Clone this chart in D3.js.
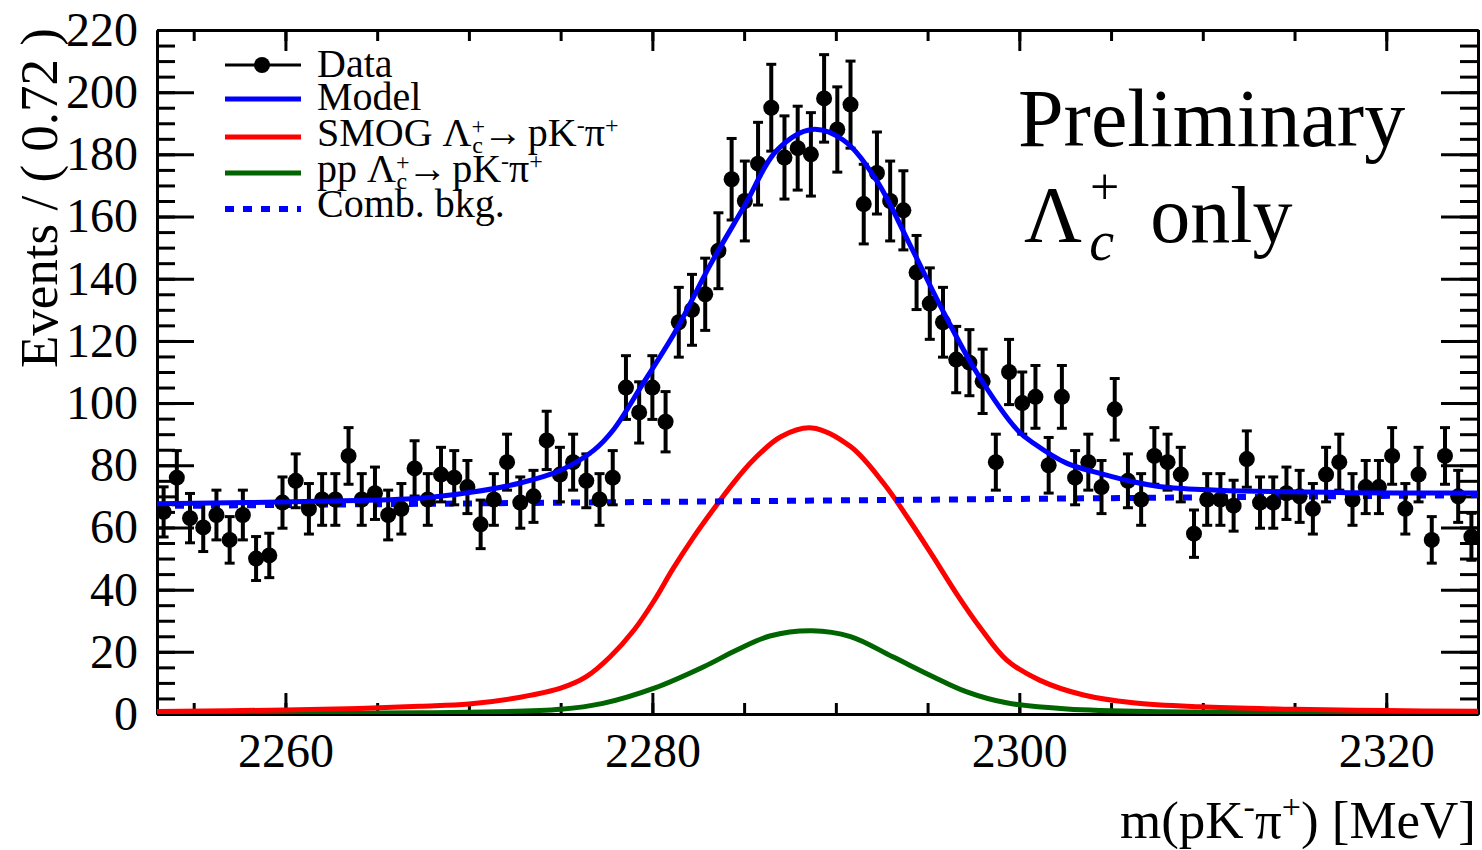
<!DOCTYPE html>
<html>
<head>
<meta charset="utf-8">
<script src="https://cdn.jsdelivr.net/npm/d3@7"></script>
<style>
  body { margin: 0; background: #fff; }
  svg { display: block; }
  text { font-family: "Liberation Serif", "Times New Roman", serif; fill: #000; }
</style>
</head>
<body>
<div id="chart"></div>
<script>
// histogram: 100 bins of 0.72 MeV from 2253 to 2325
const massRange = [2253, 2325]
const binWidth = 0.72
const counts = [
  65, 76, 63, 60, 64, 56, 64, 50, 51, 68,
  75, 66, 69, 69, 83, 69, 71, 64, 66, 79,
  69, 77, 76, 73, 61, 69, 81, 68, 70, 88,
  77, 81, 75, 69, 76, 105, 97, 105, 94, 126,
  130, 135, 149, 172, 165, 177, 195, 179, 182, 180,
  198, 188, 196, 164, 174, 165, 162, 142, 132, 126,
  114, 113, 107, 81, 110, 100, 102, 80, 102, 76,
  81, 73, 98, 75, 69, 83, 81, 77, 58, 69,
  69, 67, 82, 68, 68, 71, 70, 66, 77, 81,
  69, 73, 73, 83, 66, 77, 56, 83, 70, 57
]

// fitted curves, [mass, events]
const modelCurve = [
  [2253, 67.6], [2261.7, 68.4], [2267.3, 69.4], [2270.1, 71.3], [2272.8, 74.3],
  [2275, 78.4], [2276.8, 84.8], [2277.9, 91.6], [2279.5, 106.4], [2281.3, 123.5],
  [2283.1, 143.9], [2285, 163.2], [2286.8, 181.4], [2288.7, 188], [2290.4, 184.6],
  [2292.2, 171.8], [2294, 151.4], [2295.9, 128.9], [2297.7, 109.6], [2299.9, 91.3],
  [2300.8, 87], [2302.6, 80.6], [2304.4, 77.4], [2306.2, 74.7], [2308, 72.9],
  [2310.8, 72], [2318, 71.2], [2325, 71.1]
]
const smogCurve = [
  [2253, 0.8], [2260, 1.3], [2264, 1.8], [2267.3, 2.5], [2270, 3.2],
  [2272.8, 5.4], [2275, 8.3], [2276.4, 12], [2277.7, 18.4], [2279, 27],
  [2280.1, 36.5], [2281.1, 46.5], [2282.2, 56.5], [2283.3, 65.6], [2284.4, 74.2],
  [2285.5, 81.7], [2287, 89.2], [2288.7, 92], [2290.8, 86], [2292.6, 74.2],
  [2294, 62.4], [2295.3, 50.6], [2296.6, 38.5], [2297.9, 27.5], [2299.3, 17.4],
  [2301.1, 10.9], [2303.5, 6.1], [2306.2, 3.6], [2309.8, 2.3], [2315, 1.5],
  [2320, 1.1], [2325, 0.9]
]
const ppCurve = [
  [2253, 0.2], [2267.3, 0.4], [2275, 1.5], [2277.3, 3.4], [2280.1, 8.3],
  [2282.8, 15.2], [2284.6, 20.6], [2286.4, 25.1], [2288.7, 26.8], [2290.8, 24.9],
  [2293.1, 18.4], [2295.3, 12], [2297.1, 7.2], [2299.3, 3.6], [2302.6, 1.6],
  [2308, 0.7], [2325, 0.2]
]
const bkgCurve = [[2253, 66.9], [2325, 70.4]]

const xMajorTicks = [2260, 2280, 2300, 2320]
const xMinorTicks = d3.range(2255, 2326, 5)
const yMajorTicks = d3.range(0, 221, 20)
const yMinorTicks = d3.range(0, 221, 5)

const width = 1482
const height = 850
const plotLeft = 157
const plotRight = 1478
const plotTop = 30
const plotBottom = 714

const svg = d3
  .select('#chart')
  .append('svg')
  .attr('width', width)
  .attr('height', height)

const x = d3.scaleLinear().domain(massRange).range([plotLeft, plotRight])
const y = d3.scaleLinear().domain([0, 220]).range([plotBottom, plotTop])

svg
  .append('defs')
  .append('clipPath')
  .attr('id', 'plot-clip')
  .append('rect')
  .attr('x', plotLeft)
  .attr('y', plotTop)
  .attr('width', plotRight - plotLeft)
  .attr('height', plotBottom - plotTop)

// axes, ROOT style: ticks on all four sides pointing inwards
function styleAxis(g) {
  g.select('.domain').attr('stroke', '#000').attr('stroke-width', 3)
  g.selectAll('.tick line').attr('stroke', '#000').attr('stroke-width', 3)
  g.selectAll('.tick text').attr('font-size', 48).attr('font-family', '"Liberation Serif", serif')
}

svg
  .append('g')
  .attr('transform', `translate(0, ${plotBottom})`)
  .call(d3.axisBottom(x).tickValues(xMinorTicks).tickSize(-11).tickSizeOuter(0).tickFormat(''))
  .call(styleAxis)
svg
  .append('g')
  .attr('transform', `translate(0, ${plotBottom})`)
  .call(d3.axisBottom(x).tickValues(xMajorTicks).tickSize(-21).tickSizeOuter(0).tickPadding(19).tickFormat(d3.format('d')))
  .call(styleAxis)
svg
  .append('g')
  .attr('transform', `translate(0, ${plotTop})`)
  .call(d3.axisTop(x).tickValues(xMinorTicks).tickSize(-11).tickSizeOuter(0).tickFormat(''))
  .call(styleAxis)
svg
  .append('g')
  .attr('transform', `translate(0, ${plotTop})`)
  .call(d3.axisTop(x).tickValues(xMajorTicks).tickSize(-21).tickSizeOuter(0).tickFormat(''))
  .call(styleAxis)

svg
  .append('g')
  .attr('transform', `translate(${plotLeft}, 0)`)
  .call(d3.axisLeft(y).tickValues(yMinorTicks).tickSize(-18).tickSizeOuter(0).tickFormat(''))
  .call(styleAxis)
svg
  .append('g')
  .attr('transform', `translate(${plotLeft}, 0)`)
  .call(d3.axisLeft(y).tickValues(yMajorTicks).tickSize(-37).tickSizeOuter(0).tickPadding(19))
  .call(styleAxis)
svg
  .append('g')
  .attr('transform', `translate(${plotRight}, 0)`)
  .call(d3.axisRight(y).tickValues(yMinorTicks).tickSize(-18).tickSizeOuter(0).tickFormat(''))
  .call(styleAxis)
svg
  .append('g')
  .attr('transform', `translate(${plotRight}, 0)`)
  .call(d3.axisRight(y).tickValues(yMajorTicks).tickSize(-37).tickSizeOuter(0).tickFormat(''))
  .call(styleAxis)

// fitted curves
const line = d3
  .line()
  .x(d => x(d[0]))
  .y(d => y(d[1]))
  .curve(d3.curveCatmullRom.alpha(0.5))

const plot = svg.append('g').attr('clip-path', 'url(#plot-clip)')

plot.append('path').datum(ppCurve).attr('d', line)
  .attr('fill', 'none').attr('stroke', '#006400').attr('stroke-width', 5)
plot.append('path').datum(smogCurve).attr('d', line)
  .attr('fill', 'none').attr('stroke', '#ff0000').attr('stroke-width', 5)
plot.append('path').datum(bkgCurve).attr('d', line)
  .attr('fill', 'none').attr('stroke', '#0000ff').attr('stroke-width', 6)
  .attr('stroke-dasharray', '9,9')

// data points with Poisson error bars
const data = counts.map((c, i) => ({
  m: massRange[0] + binWidth * (i + 0.5),
  v: c,
  e: Math.sqrt(c)
}))

const points = plot
  .selectAll('.point')
  .data(data)
  .enter()
  .append('g')
  .attr('class', 'point')

points
  .append('line')
  .attr('x1', d => x(d.m))
  .attr('x2', d => x(d.m))
  .attr('y1', d => y(d.v - d.e))
  .attr('y2', d => y(d.v + d.e))
  .attr('stroke', '#000')
  .attr('stroke-width', 4)
points
  .selectAll('.cap')
  .data(d => [[d.m, d.v - d.e], [d.m, d.v + d.e]])
  .enter()
  .append('line')
  .attr('x1', d => x(d[0]) - 5)
  .attr('x2', d => x(d[0]) + 5)
  .attr('y1', d => y(d[1]))
  .attr('y2', d => y(d[1]))
  .attr('stroke', '#000')
  .attr('stroke-width', 3)
points
  .append('circle')
  .attr('cx', d => x(d.m))
  .attr('cy', d => y(d.v))
  .attr('r', 8)
  .attr('fill', '#000')

plot.append('path').datum(modelCurve).attr('d', line)
  .attr('fill', 'none').attr('stroke', '#0000ff').attr('stroke-width', 5)

// text with super/subscripts, parts: {t, shift, size, dx, italic}
function richText(sel, px, py, size, parts) {
  const t = sel.append('text').attr('x', px).attr('y', py).attr('font-size', size)
  let cur = 0
  parts.forEach(p => {
    const shift = p.shift || 0
    const ts = t.append('tspan').text(p.t).attr('dy', shift - cur)
    cur = shift
    if (p.size) ts.attr('font-size', p.size)
    if (p.dx) ts.attr('dx', p.dx)
    if (p.italic) ts.attr('font-style', 'italic')
  })
  return t
}

// legend
const legend = svg.append('g')
const legendX = [225, 301]
const legendText = 317
const decayParts = [
  { t: '+', shift: -12, size: 24 },
  { t: 'c', shift: 7, size: 24, dx: -13 },
  { t: '\u2192' },
  { t: 'pK', dx: 5 },
  { t: '-', shift: -13, size: 24 },
  { t: '\u03C0' },
  { t: '+', shift: -13, size: 24 }
]

legend.append('line')
  .attr('x1', legendX[0]).attr('x2', legendX[1]).attr('y1', 65).attr('y2', 65)
  .attr('stroke', '#000').attr('stroke-width', 3)
legend.append('circle').attr('cx', 262).attr('cy', 65).attr('r', 8).attr('fill', '#000')
richText(legend, legendText, 77, 40, [{ t: 'Data' }])

legend.append('line')
  .attr('x1', legendX[0]).attr('x2', legendX[1]).attr('y1', 99).attr('y2', 99)
  .attr('stroke', '#0000ff').attr('stroke-width', 5)
richText(legend, legendText, 110, 40, [{ t: 'Model' }])

legend.append('line')
  .attr('x1', legendX[0]).attr('x2', legendX[1]).attr('y1', 137).attr('y2', 137)
  .attr('stroke', '#ff0000').attr('stroke-width', 5)
richText(legend, legendText, 146, 40, [{ t: 'SMOG \u039B' }].concat(decayParts))

legend.append('line')
  .attr('x1', legendX[0]).attr('x2', legendX[1]).attr('y1', 173).attr('y2', 173)
  .attr('stroke', '#006400').attr('stroke-width', 5)
richText(legend, legendText, 182, 40, [{ t: 'pp \u039B' }].concat(decayParts))

legend.append('line')
  .attr('x1', legendX[0]).attr('x2', legendX[1]).attr('y1', 209).attr('y2', 209)
  .attr('stroke', '#0000ff').attr('stroke-width', 6)
  .attr('stroke-dasharray', '9,9')
richText(legend, legendText, 217, 40, [{ t: 'Comb. bkg.' }])

// labels
richText(svg, 1018, 146, 82, [{ t: 'Preliminary' }])
richText(svg, 1024, 242, 80, [
  { t: '\u039B' },
  { t: '+', shift: -38, size: 52, dx: 8 },
  { t: 'c', shift: 18, size: 56, dx: -30, italic: true },
  { t: ' only', shift: 0, dx: 16 }
])

richText(svg, 0, 0, 53, [{ t: 'Events / ( 0.72 )' }])
  .attr('text-anchor', 'end')
  .attr('transform', 'translate(57, 28) rotate(-90)')

richText(svg, 1476, 838, 53, [
  { t: 'm(pK' },
  { t: '-', shift: -20, size: 34 },
  { t: '\u03C0' },
  { t: '+', shift: -20, size: 34 },
  { t: ') [MeV]' }
]).attr('text-anchor', 'end')
</script>
</body>
</html>
